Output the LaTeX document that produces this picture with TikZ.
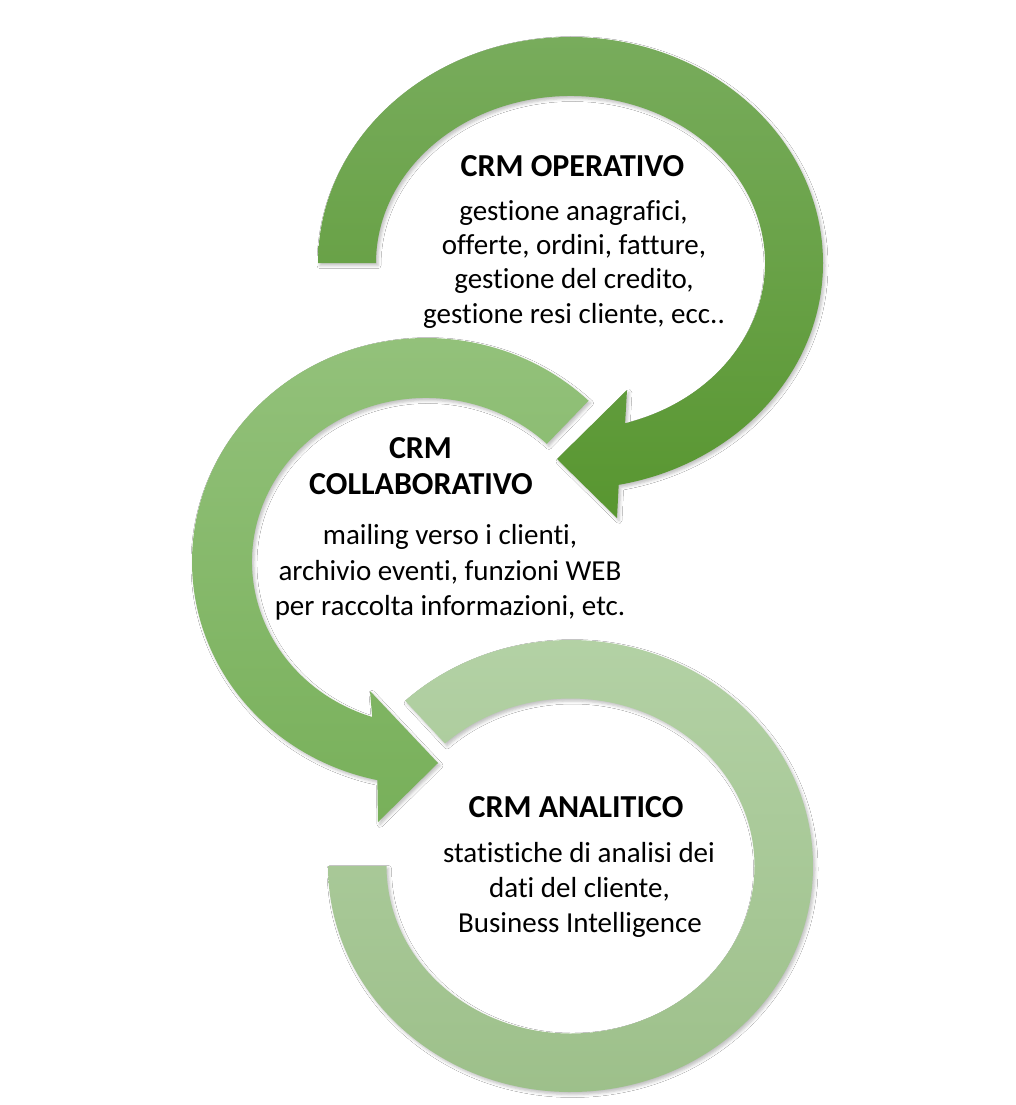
\documentclass[tikz,border=0pt]{standalone}
\usepackage{fontspec}
\setmainfont{Carlito}[Ligatures={NoCommon}]
\usetikzlibrary{calc,shadows.blur}
\definecolor{ringAtop}{RGB}{120,172,92}
\definecolor{ringAbot}{RGB}{88,150,48}
\definecolor{ringBtop}{RGB}{148,194,124}
\definecolor{ringBbot}{RGB}{120,176,90}
\definecolor{ringCtop}{RGB}{180,210,166}
\definecolor{ringCbot}{RGB}{156,191,137}
\tikzset{
  ringshadow/.style={blur shadow={shadow xshift=2pt, shadow yshift=-2.5pt, shadow blur radius=3pt, shadow opacity=25}},
  ringA/.style={ringshadow, top color=ringAtop, bottom color=ringAbot, draw=none},
  ringB/.style={ringshadow, top color=ringBtop, bottom color=ringBbot, draw=none},
  ringC/.style={ringshadow, top color=ringCtop, bottom color=ringCbot, draw=none},
  ttl/.style={anchor=base, inner sep=0pt, font=\fontsize{32}{36}\selectfont\bfseries},
  txt/.style={anchor=base, inner sep=0pt, font=\fontsize{29}{35}\selectfont},
}
\begin{document}
\begin{tikzpicture}[x=1pt, y=-1pt]
\fill[white] (0,0) rectangle (1016,1105);
\useasboundingbox (0,0) rectangle (1016,1105);
\coordinate (C1) at (570.5,263);
\coordinate (C2) at (426,561.5);
\coordinate (C3) at (570.5,866);
% ring 3 (CRM ANALITICO)
\path[ringC] ($(C3)+(227:242.5 and 226)$)
  arc[start angle=227, end angle=540, x radius=242.5, y radius=226]
  -- ($(C3)+(540:184 and 167.5)$)
  arc[start angle=540, end angle=227, x radius=184, y radius=167.5] -- cycle;
% ring 2 (CRM COLLABORATIVO)
\coordinate (B2tip) at (438,763);
\coordinate (B2up) at (370,691);
\coordinate (B2lo) at (378,822);
\path[ringB] ($(C2)+(-46:234 and 223.5)$)
  arc[start angle=-46, end angle=-258, x radius=234, y radius=223.5]
  -- (B2lo) -- (B2tip) -- (B2up)
  -- ($(C2)+(-252:174 and 163.5)$)
  arc[start angle=-252, end angle=-46, x radius=174, y radius=163.5] -- cycle;
% ring 1 (CRM OPERATIVO)
\coordinate (B1tip) at (557,459);
\coordinate (B1up) at (627,390);
\coordinate (B1lo) at (617,518);
\path[ringA] ($(C1)+(180:252.5 and 226)$)
  arc[start angle=180, end angle=439, x radius=252.5, y radius=226]
  -- (B1lo) -- (B1tip) -- (B1up)
  -- ($(C1)+(433.7:194.5 and 167)$)
  arc[start angle=433.7, end angle=180, x radius=194.5, y radius=167] -- cycle;
% texts ring 1
\node[ttl] (t1) at (572.5,176.5) {CRM OPERATIVO};
\node[txt] (t1a) at (573.5,220) {gestione anagrafici,};
\node[txt] (t1b) at (574,254.5) {offerte, ordini, fatture,};
\node[txt] (t1c) at (574,288.5) {gestione del credito,};
\node[txt] (t1d) at (574,323) {gestione resi cliente, ecc..};
% texts ring 2
\node[ttl] (t2) at (420.5,458.5) {CRM};
\node[ttl] (t2b) at (421,494) {COLLABORATIVO};
\node[txt] (t2c) at (450,544) {mailing verso i clienti,};
\node[txt] (t2d) at (450,580) {archivio eventi, funzioni WEB};
\node[txt] (t2e) at (450,615.5) {per raccolta informazioni, etc.};
% texts ring 3
\node[ttl] (t3) at (576,817) {CRM ANALITICO};
\node[txt] (t3a) at (579,862) {statistiche di analisi dei};
\node[txt] (t3b) at (579.5,897) {dati del cliente,};
\node[txt] (t3c) at (580,932) {Business Intelligence};
\end{tikzpicture}
\end{document}
